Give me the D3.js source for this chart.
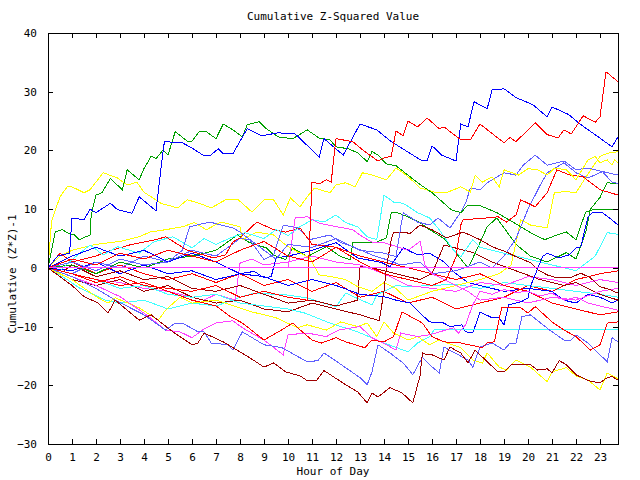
<!DOCTYPE html>
<html>
<head>
<meta charset="utf-8">
<script src="https://cdn.jsdelivr.net/npm/d3@7"></script>
<style>
  body { margin: 0; background: #fff; }
  svg text { font-family: "DejaVu Sans Mono", "Liberation Mono", monospace; font-size: 11px; fill: #000; }
</style>
</head>
<body>
<svg id="chart" width="640" height="480"></svg>
<script>
// Cumulative Z-squared value per hour: one random-walk-like line per feed.
// Each series is a list of [hour, value] knots.

const xTicks = d3.range(0, 24);
const yTicks = [-30, -20, -10, 0, 10, 20, 30, 40];

const blueTop = [[0,0],[0.4,2],[0.9,2.5],[1,8.5],[1.5,8.2],[1.75,10],[2,9.4],[2.6,11],[2.9,9.9],[3.5,9.3],[3.8,12.1],[4.5,9.7],[4.75,18.4],[4.85,21.5],[5.6,21.3],[6,20.4],[6.5,19.1],[6.75,19.1],[7.1,20.3],[7.3,19.4],[7.7,19.4],[8.3,23.7],[8.9,22.5],[9.6,23],[10.3,22.8],[11.3,18.9],[11.5,22],[12.3,19.2],[13,24.5],[13.7,23.5],[14.3,21.5],[15.6,18.2],[15.8,18.2],[16,20.8],[16.4,19.2],[17,18.2],[17.2,24.5],[17.5,24],[17.75,28.3],[18.3,27.1],[18.5,30.3],[19,30.5],[19.5,29],[20.2,27.8],[20.8,25.7],[21,27.4],[21.7,26.1],[22.2,24.4],[23.1,21.8],[23.5,20.6],[23.75,22.3]];
const greenTop = [[0,0],[0.3,6.1],[0.6,6.5],[0.8,6],[1.1,5.6],[1.3,4.8],[1.75,5.6],[1.8,9],[2,12.4],[2.25,12.8],[2.6,15.2],[3.1,13.3],[3.3,16.7],[3.8,15],[4,16.9],[4.3,19],[4.5,18.6],[4.8,20.1],[5,19.2],[5.3,23.2],[5.8,21.6],[6,21.6],[6.3,23.2],[6.6,23.2],[7,22],[7.3,24.5],[7.7,23.5],[8.1,22.3],[8.3,24.4],[8.8,24.9],[9.1,23.7],[9.6,22.3],[10.2,22],[10.8,23.5],[11.3,22.1],[11.75,21.8],[12,20.6],[12.5,20.3],[12.9,19.6],[13.3,18.1],[13.5,19.8],[13.75,19.2],[14.1,17.7],[14.5,17.4],[15.4,14.5],[16,12.8],[16.8,9.9],[17.2,9.4],[17.5,10.7],[18,10.6],[18.7,9.4],[19.2,8.2],[19.7,7],[20.1,6],[20.7,4.8],[21.2,5.6],[21.6,6.1],[22,4.8],[22.4,9.5],[22.7,9.9],[23.75,10]];
const redTop = [[0,0],[1,-1],[2,-2.5],[3,-1.5],[4,-3],[5,-3.5],[6,-4],[7,-3],[8,-5],[9,-4],[10,-5],[10.8,-5.5],[11,14.6],[11.3,14.3],[11.6,15],[11.8,14.6],[11.9,18.4],[12,22],[12.7,21.5],[13.2,19.8],[13.75,18.2],[14,18.7],[14.3,19],[14.5,23.3],[14.8,22.5],[15,25],[15.4,24],[15.8,25.5],[16.3,23.7],[16.5,24],[17.2,21.8],[17.6,21.8],[18,24.5],[19,21.3],[19.25,22.2],[19.5,21.5],[20.3,24.7],[20.8,22.7],[21.25,22.1],[21.5,23.5],[21.8,22.8],[22.3,25.9],[22.8,24.8],[23,25.7],[23.25,33.4],[23.75,31.7]];
const yellowTop = [[0,0],[0.15,8],[0.5,12.1],[0.8,13.8],[1,13.8],[1.5,12.8],[1.75,13.3],[2.3,16.2],[2.9,15.3],[3.3,14.1],[3.7,14.6],[4,12.9],[4.7,11],[5.4,10.2],[5.8,11.6],[6.3,11],[6.8,10.2],[7.4,11.6],[7.9,11.7],[8.5,9.5],[9,11.6],[9.4,11.6],[9.8,9],[10.1,11.9],[10.5,10.4],[10.8,12.1],[11.1,13.6],[11.75,12.8],[12,14.1],[12.4,14.5],[12.8,13.8],[13.1,16.2],[13.5,15.8],[14.1,15],[14.5,17],[14.8,16.2],[15.2,14.8],[15.5,13.6],[16.2,12.8],[16.6,12.8],[17.2,13.8],[17.6,12.9],[17.8,15.8],[18.1,14.6],[18.5,15.5],[18.8,13.8],[19,16.7],[19.6,15.8],[20,16.9],[20.4,16.7],[20.8,15.8],[21.1,17],[21.6,16.7],[22,15],[22.5,18.4],[22.8,19],[23,17.9],[23.3,18.4],[23.5,17.5],[23.6,18.4],[23.75,17.9]];
const yellowMid = [[0,0],[0.5,2],[1,3],[2,4],[3,4.5],[3.8,5.3],[4.25,6.1],[4.9,6.5],[5.6,7],[6.1,7.7],[6.6,6.5],[7.2,7.8],[8,7],[8.1,4.8],[8.7,6.1],[9.4,5.6],[9.9,3.9],[10.4,2.7],[10.9,1.7],[11.3,-1.2],[11.8,-1.5],[12.4,-2],[12.9,-3.2],[13.5,-4],[14,-2.5],[14.5,-3.5],[15,-5.5],[16,-4],[17,-3],[18,-2],[18.8,-1],[19.3,0.5],[19.7,8.2],[20.1,7.3],[20.8,6.8],[21.1,12.8],[21.6,13],[22,12.8],[22.5,16],[23,19],[23.3,19.5],[23.75,19.8]];
const yellowLow = [[0,0],[1,-2],[2,-4.9],[2.5,-6],[2.8,-5.1],[3.8,-6.8],[4.6,-8.9],[4.9,-7.2],[5.5,-5],[6,-6],[7,-5.5],[7.6,-6.3],[8.5,-7.5],[9.5,-8.5],[10.4,-10.2],[10.8,-9.7],[11.6,-10.6],[12.2,-9.2],[12.9,-10],[13.3,-9.4],[13.7,-11.7],[14,-9.2],[14.4,-11.1],[15,-12.3],[15.4,-11.7],[15.9,-13.1],[16.3,-12.3],[17.2,-13.6],[17.7,-15.7],[18.1,-16.2],[18.3,-14.5],[18.8,-16.9],[19.1,-17.4],[19.5,-15.7],[20.1,-16.9],[20.8,-19.4],[21,-17.7],[21.6,-17],[22,-18.4],[22.5,-19.1],[23,-20.8],[23.3,-17.9],[23.75,-18.9]];
const slateLow = [[0,0],[1,-1.5],[2,-3.5],[2.8,-5.5],[4,-8],[4.9,-10.6],[5.3,-9.4],[5.6,-9.4],[6.25,-10.9],[6.5,-10.9],[6.8,-12.8],[7.5,-13.1],[7.7,-14],[8.1,-10.9],[9,-13.1],[9.75,-13.6],[10.8,-16],[11.25,-15.8],[11.5,-14.5],[11.8,-15.3],[13,-18.7],[13.3,-19.9],[13.5,-17.7],[13.75,-13.1],[14.25,-14.5],[14.8,-16.2],[15.2,-18.2],[15.6,-15.2],[15.9,-16.5],[16.3,-17.9],[16.5,-13.5],[17.5,-15.7],[17.7,-16.9],[18,-13.5],[18.5,-12.8],[19,-14],[19.25,-12.8],[19.5,-12.8],[19.75,-8.3],[20.1,-8],[20.9,-10.6],[21.5,-12.3],[21.8,-12.3],[22,-11.4],[22.5,-12.8],[23.3,-16],[23.5,-11.9],[23.75,-12.6]];
const darkRedLow = [[0,0],[0.5,-1.5],[1,-3],[1.5,-4.9],[2.1,-6],[2.5,-7.7],[2.8,-5.5],[3.8,-8.9],[4.3,-8],[5.2,-10.9],[6,-13.1],[6.25,-12.8],[6.5,-11.1],[7.3,-12.6],[8,-14.3],[8.4,-15.3],[9,-16.9],[9.4,-16.2],[9.9,-17.7],[10.5,-18.4],[10.8,-19.2],[11.2,-19.1],[11.5,-17.5],[12.4,-19.9],[12.9,-21.1],[13.3,-23],[13.5,-21.3],[13.75,-22],[14.25,-20.4],[14.75,-21.3],[15.2,-23],[15.5,-18.4],[15.6,-14.5],[15.8,-14.8],[16,-14.8],[16.5,-15.7],[16.75,-13.5],[17.2,-14.5],[17.5,-16.2],[17.8,-14],[18.3,-16],[18.75,-17.7],[19,-17.7],[19.3,-16.5],[19.7,-16.4],[20.1,-16.5],[20.4,-17.4],[20.8,-17.2],[21,-17.9],[21.3,-15.8],[21.6,-16.5],[22,-18.2],[22.5,-19.2],[23,-19.6],[23.3,-18.7],[23.5,-18.5],[23.75,-19.1]];
const magentaLow = [[0,0],[1,-1.5],[2,-3],[3,-4.9],[4.1,-8],[4.9,-10.6],[5.5,-10.9],[6,-11.9],[6.5,-10.4],[7,-9.4],[7.7,-9],[8.1,-10.2],[9,-12.3],[9.8,-14.8],[10,-11.4],[10.8,-11.1],[11.6,-11.7],[12.1,-10.6],[13,-10],[13.5,-11.9],[14.1,-13.1],[14.5,-14],[14.7,-11.1],[15.4,-11.7],[15.9,-11.4],[16.9,-10.2],[17.1,-11.1],[17.4,-9.7],[17.7,-6.3],[18,-4],[18.5,-4.5],[19,-3.7],[19.5,-4.2],[20,-4],[20.5,-4.8],[21,-4.3],[21.5,-5.5],[22,-5],[22.5,-6],[23,-6.5],[23.75,-7.2]];
const cyanFlat = [[0,0],[1,-1],[2,-2],[3,-3.5],[4,-3],[5,-4.5],[6,-5],[7,-4.5],[8,-6],[9,-6.5],[10,-7],[10.7,-7.7],[11.75,-9.4],[12.9,-10.9],[14,-12.8],[15,-14.3],[15.4,-12.8],[15.9,-11.7],[16.1,-10.5],[23.75,-10.5]];
const cyanHigh = [[0,0],[0.5,-0.5],[1,1.4],[1.75,3.9],[2.3,2.2],[2.9,3.6],[3.8,2.5],[4.4,4.4],[5.2,5.3],[6,3.4],[6.5,5],[7,4],[7.6,5.1],[8.2,6],[9,5],[9.5,6.5],[10,5.5],[10.5,7],[11,8.2],[11.5,7.8],[12,9],[12.4,7.7],[12.9,7],[13.3,5.3],[13.7,4.8],[14,12.4],[14.4,11.2],[14.8,11],[15.4,9.4],[15.9,8.5],[16.3,6.5],[16.9,3],[17.2,1.9],[17.7,4.8],[18,3.5],[19,2.5],[20,1.5],[21,0.5],[22,-0.5],[22.8,2],[23.3,6],[23.75,5.7]];
const cyanMid = [[0,0],[0.8,-2],[1.3,-3.4],[2.4,-5.5],[3,-6],[4,-5.5],[5,-7],[6,-6],[7,-6.5],[8,-5],[8.6,-4.3],[9.9,-4.6],[10.8,-5.1],[11.3,-5.8],[12,-6.6],[12.4,-4.3],[13.5,-6.3],[13.7,-4.6],[14.5,-3],[15,-3.2],[16,-3],[17,-2.8],[18,-3.5],[19,-2.5],[20,-3],[21,-3.5],[22,-4],[23,-4.5],[23.75,-5]];
const redMid = [[0,0],[1,1.5],[2,0.5],[3,2.5],[4,1.5],[5,3],[6,2],[7,1],[8,3],[9,4.5],[10,2],[11,1],[12,3.5],[13,1],[14,-1],[15,-2],[16,-3],[16.6,-2],[17,1.9],[17.2,7.3],[17.3,8.2],[18.3,8.5],[18.75,8.7],[19.1,7.8],[19.5,9],[19.7,11.6],[20.3,10.4],[20.8,12.8],[21.2,16.7],[21.75,15.8],[22.3,15.5],[23,13.3],[23.75,12.4]];
const redUpper = [[0,0],[1,1],[2,2],[2.4,2.7],[3.4,3.9],[4.5,4.8],[4.9,5.3],[5.8,3],[6.9,1.7],[7.4,2.2],[7.7,4.4],[8,5.1],[8.7,7.8],[9.4,6.5],[9.9,6.1],[10.5,6.8],[11,4],[12,3.5],[13,2],[14,1],[15,0],[16,-1],[17,-2],[18,-1],[19,-3],[20,-4],[21,-6],[22,-7],[23,-8],[23.75,-7.5]];
const redLow = [[0,0],[1,-1],[2,-2],[3,-3],[4,-2.5],[5,-4],[6,-5.5],[7,-6.5],[7.6,-8.3],[8.1,-9.4],[9,-12.3],[9.6,-10.9],[10.2,-9.4],[10.4,-10.2],[11,-12.3],[11.4,-12.8],[12,-11.9],[12.4,-12.6],[12.8,-13.1],[13.2,-13.6],[13.5,-12.3],[14,-12.6],[14.4,-11.7],[14.75,-7.5],[15.6,-9.4],[16,-11.7],[16.5,-12.6],[17.2,-12.8],[18.1,-13.6],[18.3,-12.8],[18.6,-12.6],[18.9,-6.8],[19.7,-6.8],[20,-7.7],[20.3,-6.6],[21,-9.2],[21.5,-10.6],[22,-11.7],[22.6,-14],[23,-13.1],[23.3,-9.4],[23.75,-9.2]];
const redZero = [[0,0],[0.5,2.5],[1,1],[2,-1],[3,0.5],[4,-1],[5,-2],[6,-1],[7,-2.5],[8,-1],[9,-3],[10,-2],[11,-4],[12,-2.5],[13,-5],[14,-4],[15,-6],[16,-5],[17,-7],[18,-6],[19,-5],[20,-3],[21,-4],[22,-2],[23,-1],[23.75,-0.5]];
const darkRedMid = [[0,0],[1,-2],[2,-3],[3,-2],[4,-4],[5,-3],[6,-5],[7,-6],[8,-5.5],[9,-7],[10,-7.5],[11,-6],[12,-7],[13,-8],[13.8,-9],[14,-4],[14.1,0],[14.3,4.8],[14.4,6.1],[15.1,5.9],[15.5,7.3],[16,6.5],[16.6,5.1],[17.3,6.1],[18,4.8],[18.5,3.6],[19.1,2.7],[19.5,1.9],[20.1,0.9],[20.4,-0.3],[20.8,-1.2],[21.2,-1.7],[21.75,-1.7],[22.2,-0.9],[22.6,-1.7],[23,-3.2],[23.4,-3.7],[23.75,-4.3]];
const darkRedJump = [[0,0],[0.5,-1],[1,0.5],[2,-1.5],[3,-0.5],[4,-2],[5,-1.5],[6,-3.5],[7,-4],[8,-3],[9,-4.5],[10,-6],[11,-5.5],[12,-6.5],[12.9,-5.5],[13,0.2],[13.5,0],[14,-0.5],[15,-1.5],[15.5,-2],[16,-1],[16.5,3.9],[17.7,2.6],[18.5,1],[19.5,-0.5],[20.5,-2],[21.5,-3],[22,-2.5],[22.5,-3.5],[23,-4.5],[23.75,-5.5]];
const blueMid = [[0,0],[1,2],[2,3.5],[3,2],[4,3],[5,1],[6,2.5],[7,1],[8,-1],[9,-1.5],[10,-3],[11,-2],[12,-3],[13,-4.5],[14,-4.9],[14.5,-5.5],[15.1,-6],[15.5,-7.7],[15.9,-9.2],[16.5,-9.4],[16.75,-10],[17.25,-9.7],[17.4,-10.9],[17.7,-11.1],[18,-7.5],[18.5,-8.5],[18.8,-8.5],[19,-9.7],[19.2,-6.3],[19.7,-5.8],[20,-5.1],[20.1,-3.2],[20.6,1.9],[20.8,2.5],[21.3,1.7],[21.7,2.2],[22,3.4],[22.2,3.6],[22.5,8.7],[22.7,9.5],[23.1,9.4],[23.4,8.5],[23.75,7.3]];
const blueLow = [[0,0],[1,-0.5],[2,1],[3,-1],[4,0.5],[5,-1],[6,-0.5],[7,-2],[8,-1],[8.6,-0.6],[9,-1.7],[9.3,-1.5],[9.5,1.7],[10,2],[11,3],[12,4.3],[12.9,1.7],[13.9,0.9],[14.25,0.2],[14.8,3.4],[15.4,2.2],[15.9,2.5],[16.5,1],[17,-1],[17.5,-2.5],[18,-3],[19,-4],[20,-3.5],[21,-4],[21.5,-5.5],[22,-6],[22.5,-4.5],[23,-5],[23.5,-6],[23.75,-5.5]];
const slateHigh = [[0,0],[1,1],[2,-0.5],[3,1.5],[4,0.5],[5,1],[5.6,3],[5.9,7],[6.2,7.3],[6.75,7.8],[7.2,7.3],[7.7,6.8],[8,6.1],[9,3],[9.5,1.5],[10,4],[11,3.5],[12,5],[12.5,4],[13,3],[14,2.5],[14.5,1.9],[14.7,7],[14.8,9.4],[15.4,7.8],[15.9,7.3],[16.25,8.5],[16.75,6.8],[17.2,9.5],[17.4,11],[17.6,13.6],[18,13.3],[18.3,14.5],[19,16.2],[19.5,15.8],[19.8,17.5],[20.3,19.2],[20.8,17.5],[21.5,18.2],[22,16.7],[22.5,17],[23,16.5],[23.75,15.8]];
const slateMid = [[0,0],[1,-1],[2,1],[3,0],[4,2],[5,1],[6,3],[7,2],[8,5],[8.4,4.8],[9,1.4],[9.4,2.2],[9.8,7.3],[10.4,6.8],[10.9,4.8],[11.75,5.6],[12.2,4.3],[12.7,3.6],[13.5,2.2],[14.1,1.4],[14.7,0.5],[15.5,1],[16,-1],[17,-0.5],[18,1],[18.5,0],[19,2],[19.5,5],[20,10],[20.5,14],[20.8,16.2],[21.5,17.9],[22,16.2],[22.5,15.3],[23.1,16.4],[23.5,14.6],[23.75,14.4]];
const greenMid = [[0,0],[1,0.5],[2,-1],[3,1],[4,0],[5,1.5],[6,2],[7,3],[7.9,5.6],[8.4,4.3],[9.1,3.4],[9.4,2.2],[9.9,1.4],[10.2,3.4],[10.8,1.9],[11.6,3.6],[12.2,1.9],[12.6,1.4],[12.7,4.3],[13.7,4.4],[14.1,5.1],[14.3,9.4],[14.5,9.5],[15.1,8.5],[15.5,7.7],[15.9,6.5],[16.5,5],[17,2.5],[17.5,0],[17.8,2.5],[18.3,7],[18.7,8.5],[19.5,4],[20.1,2],[20.8,1],[21.3,2],[21.6,2.6],[22,1.5],[22.4,6],[22.6,10],[23,12],[23.3,14.5],[23.75,14.3]];
const magentaJump = [[0,0],[10,0],[10.3,8.5],[10.8,8.7],[11.3,7.6],[12.3,6.8],[12.7,6.5],[13.1,5.3],[13.5,4.4],[14,4.3],[15,3],[15.5,4.5],[15.7,0.5],[16,-1],[17,-3],[17.5,-4],[18,-5.5],[19,-5],[20,-6],[21,-5],[22,-5.5],[23,-4],[23.75,-3.5]];
const magentaLate = [[0,0],[1,-1],[2,-2],[3,-2.5],[4,-3.5],[5,-4],[6,-5],[6.5,-5.5],[7,-4.5],[7.8,-5.5],[8,0.8],[8.5,1.5],[9,0.5],[10,1],[11,2],[12,1],[13,0.5],[14,-1],[15,-3],[16,-3.5],[17,-4],[18,-2.5],[19,-3],[20,-1.5],[21,-2],[22,-3],[23,-2],[23.75,-2.5]];
const magentaFlat = [[0,0],[23.75,0]];

const seriesList = [
  {pts: redZero, color: "#ff0000"},
  {pts: cyanMid, color: "#40ffff"},
  {pts: magentaLate, color: "#ff40ff"},
  {pts: blueLow, color: "#0000ff"},
  {pts: darkRedJump, color: "#a00000"},
  {pts: greenMid, color: "#00a000"},
  {pts: yellowMid, color: "#ffff00"},
  {pts: slateMid, color: "#6060ff"},
  {pts: redUpper, color: "#ff0000"},
  {pts: cyanHigh, color: "#40ffff"},
  {pts: magentaJump, color: "#ff40ff"},
  {pts: darkRedMid, color: "#a00000"},
  {pts: blueMid, color: "#0000ff"},
  {pts: slateHigh, color: "#6060ff"},
  {pts: redMid, color: "#ff0000"},
  {pts: cyanFlat, color: "#40ffff"},
  {pts: yellowLow, color: "#ffff00"},
  {pts: magentaLow, color: "#ff40ff"},
  {pts: slateLow, color: "#6060ff"},
  {pts: redLow, color: "#ff0000"},
  {pts: darkRedLow, color: "#a00000"},
  {pts: yellowTop, color: "#ffff00"},
  {pts: greenTop, color: "#00a000"},
  {pts: blueTop, color: "#0000ff"},
  {pts: redTop, color: "#ff0000"},
  {pts: magentaFlat, color: "#ff40ff"}
];

const svg = d3.select("#chart");
const plotLeft = 48, plotRight = 618, plotTop = 33, plotBottom = 444;

const x = d3.scaleLinear().domain([0, 23.75]).range([plotLeft, plotRight]);
const y = d3.scaleLinear().domain([-30, 40]).range([plotBottom, plotTop]);

// lines first, frame and ticks on top
const line = d3.line().x(d => x(d[0])).y(d => y(d[1]));

svg.append("g")
  .selectAll("path")
  .data(seriesList)
  .join("path")
  .attr("d", d => line(d.pts))
  .attr("fill", "none")
  .attr("stroke", d => d.color)
  .attr("stroke-width", 1)
  .attr("shape-rendering", "crispEdges");

// ticks point inward on all four sides
const axisB = d3.axisBottom(x).tickValues(xTicks).tickSizeInner(-5).tickSizeOuter(0).tickPadding(9);
const axisT = d3.axisTop(x).tickValues(xTicks).tickSizeInner(-5).tickSizeOuter(0).tickFormat("");
const axisL = d3.axisLeft(y).tickValues(yTicks).tickSizeInner(-5).tickSizeOuter(0).tickPadding(11);
const axisR = d3.axisRight(y).tickValues(yTicks).tickSizeInner(-5).tickSizeOuter(0).tickFormat("");

function styleAxis(g) {
  g.select(".domain").remove();
  g.selectAll("line").attr("stroke", "#000").attr("shape-rendering", "crispEdges");
  g.selectAll("text").attr("font-family", null).attr("font-size", null);
}

svg.append("g").attr("transform", `translate(0,${plotBottom})`).call(axisB).call(styleAxis);
svg.append("g").attr("transform", `translate(0,${plotTop})`).call(axisT).call(styleAxis);
svg.append("g").attr("transform", `translate(${plotLeft},0)`).call(axisL).call(styleAxis);
svg.append("g").attr("transform", `translate(${plotRight},0)`).call(axisR).call(styleAxis);

svg.append("rect")
  .attr("x", plotLeft + 0.5).attr("y", plotTop + 0.5)
  .attr("width", plotRight - plotLeft).attr("height", plotBottom - plotTop)
  .attr("fill", "none").attr("stroke", "#000").attr("stroke-width", 1);

svg.append("text")
  .attr("x", (plotLeft + plotRight) / 2).attr("y", 20)
  .attr("text-anchor", "middle")
  .text("Cumulative Z-Squared Value");

svg.append("text")
  .attr("x", (plotLeft + plotRight) / 2).attr("y", 475)
  .attr("text-anchor", "middle")
  .text("Hour of Day");

svg.append("text")
  .attr("transform", "translate(16,274) rotate(-90)")
  .attr("text-anchor", "middle")
  .text("Cumulative (Z*Z)-1");
</script>
</body>
</html>
